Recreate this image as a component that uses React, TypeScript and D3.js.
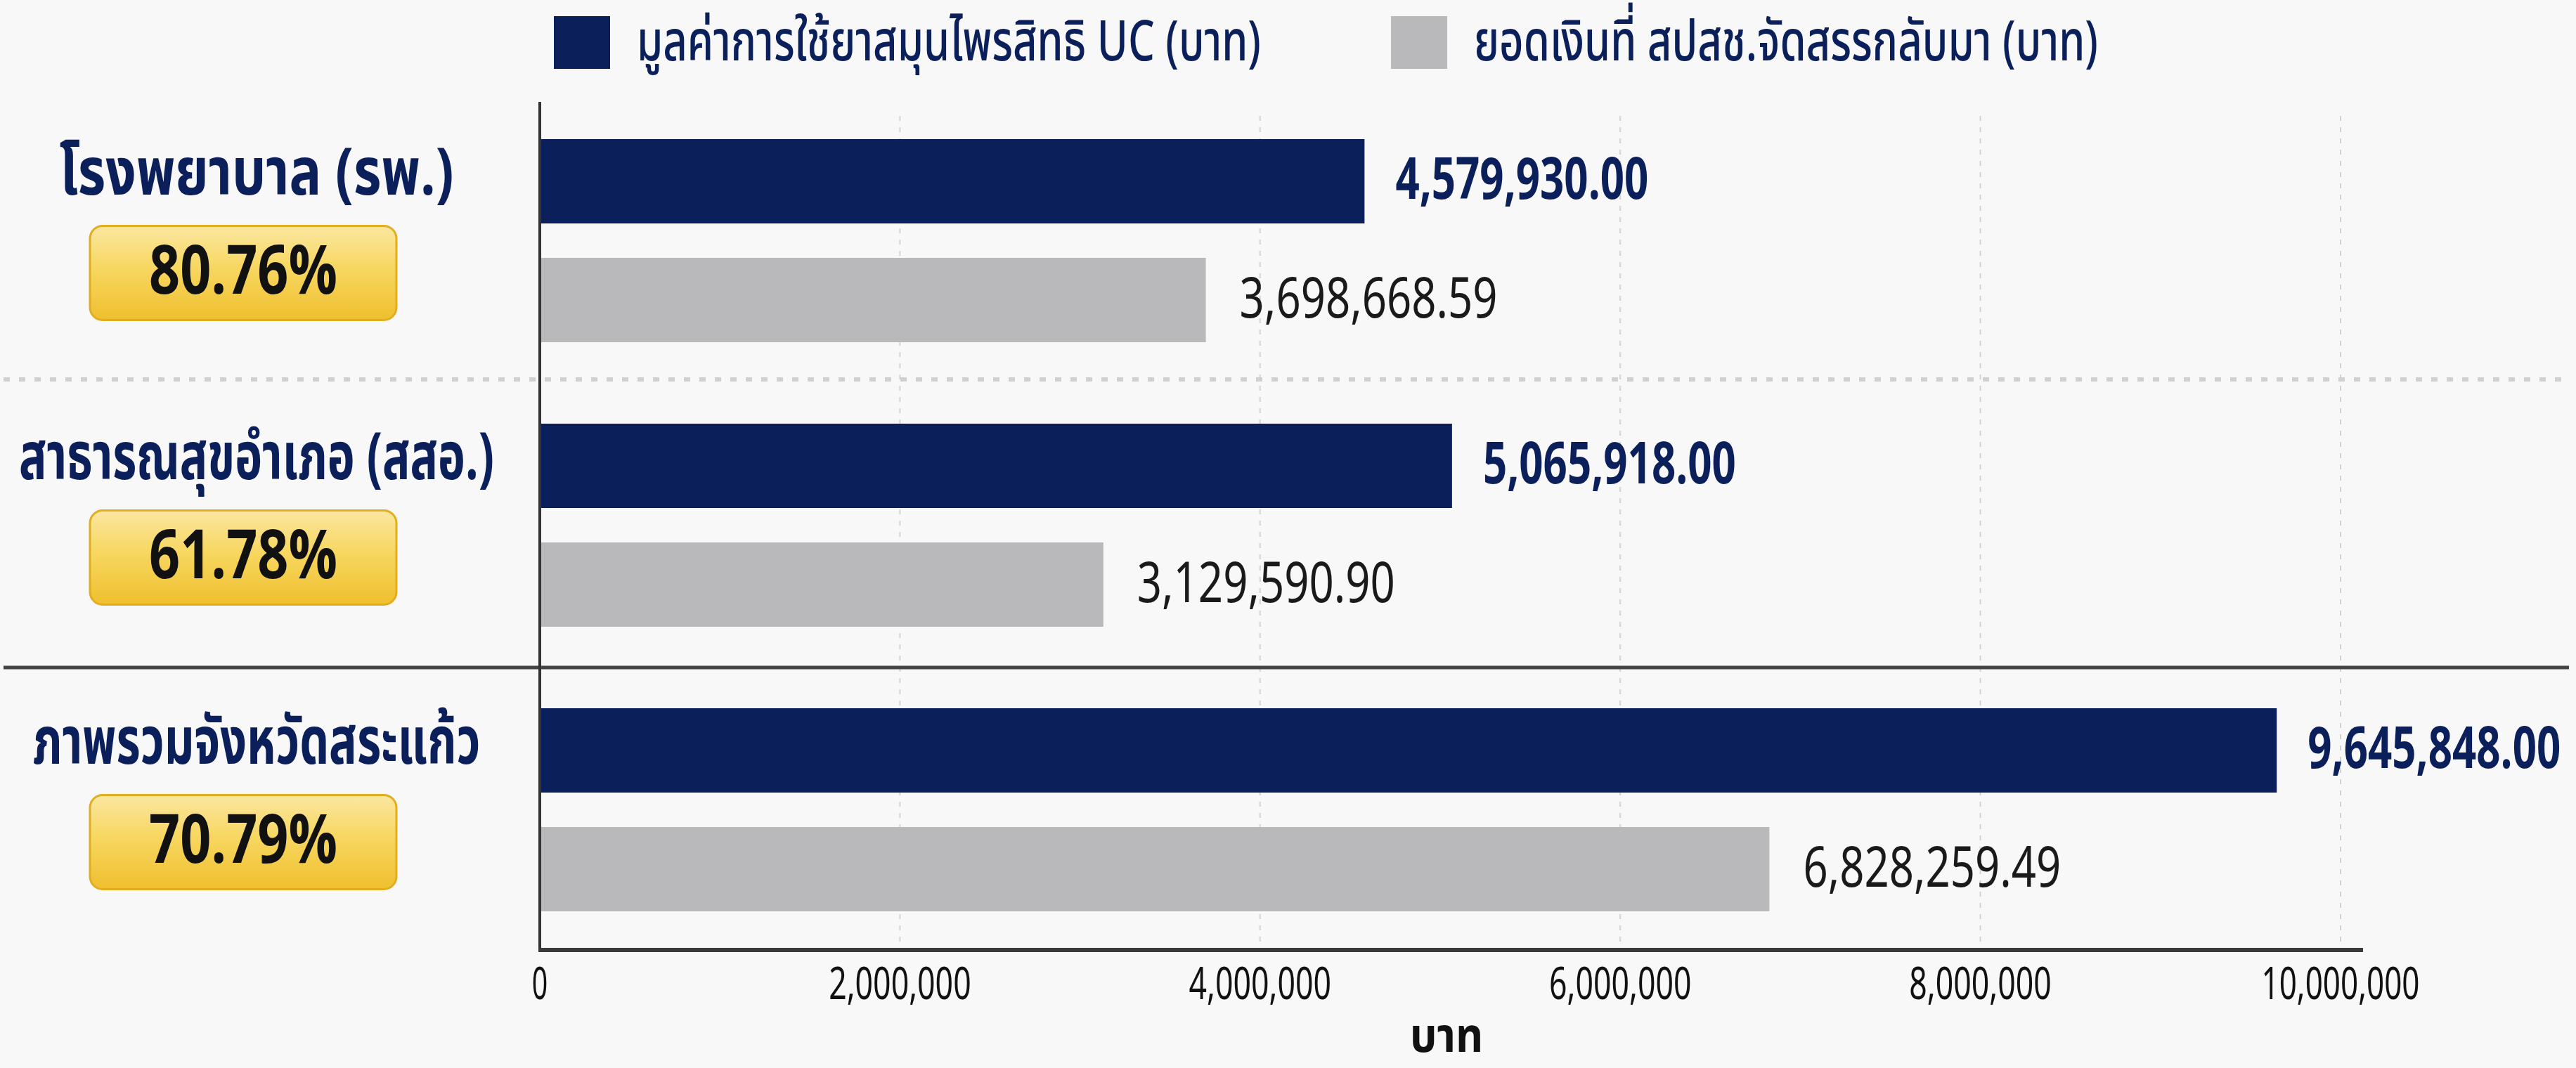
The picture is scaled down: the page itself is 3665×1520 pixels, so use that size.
import { useEffect, useRef } from "react";
import * as d3 from "d3";

// chart data
const categories = ["โรงพยาบาล (รพ.)", "สาธารณสุขอำเภอ (สสอ.)", "ภาพรวมจังหวัดสระแก้ว"];
const percentLabels = ["80.76%", "61.78%", "70.79%"];
const seriesNames = ["มูลค่าการใช้ยาสมุนไพรสิทธิ UC (บาท)", "ยอดเงินที่ สปสช.จัดสรรกลับมา (บาท)"];
const ucValues = [4579930.0, 5065918.0, 9645848.0];
const returnedValues = [3698668.59, 3129590.9, 6828259.49];
const xTicks = [0, 2000000, 4000000, 6000000, 8000000, 10000000];
const axisTitle = "บาท";

const W = 3665, H = 1520;
const NAVY = "#0b1f5b";
const GREY = "#b9b9bb";
const FONT = "'Noto Sans Thai', Roboto, 'Noto Sans', 'DejaVu Sans', sans-serif";
// condensed look: squeeze category labels to the reference widths
const labelLengths = [561, 676, 637];

export default function App() {
  const ref = useRef<SVGSVGElement>(null);

  useEffect(() => {
    const svg = d3.select(ref.current);
    svg.selectAll("*").remove();

    svg.append("rect").attr("width", W).attr("height", H).attr("fill", "#f8f8f8");

    const defs = svg.append("defs");
    const grad = defs.append("linearGradient").attr("id", "gold").attr("x1", 0).attr("y1", 0).attr("x2", 0).attr("y2", 1);
    grad.append("stop").attr("offset", "0%").attr("stop-color", "#fbe7a0");
    grad.append("stop").attr("offset", "45%").attr("stop-color", "#f7d760");
    grad.append("stop").attr("offset", "100%").attr("stop-color", "#efbf2e");

    const x = d3.scaleLinear().domain([0, 10000000]).range([768, 3330]);
    const y = d3.scaleBand<string>().domain(categories).range([140, 1355]);
    const inner = d3.scaleBand<string>().domain(["uc", "ret"]).range([0, y.step()])
      .paddingInner(0.29).paddingOuter(0.343);
    const fmt = d3.format(",.2f");

    // grid lines
    svg.append("g").selectAll("line").data(xTicks.slice(1)).join("line")
      .attr("x1", (d) => x(d)).attr("x2", (d) => x(d))
      .attr("y1", 165).attr("y2", 1350)
      .attr("stroke", "#d2d2d2").attr("stroke-width", 2).attr("stroke-dasharray", "7 9");

    // group separators
    svg.append("line").attr("x1", 5).attr("x2", 3655)
      .attr("y1", y(categories[1])! - 5).attr("y2", y(categories[1])! - 5)
      .attr("stroke", "#d0d0d0").attr("stroke-width", 6).attr("stroke-dasharray", "9 13");
    svg.append("line").attr("x1", 5).attr("x2", 3655)
      .attr("y1", y(categories[2])!).attr("y2", y(categories[2])!)
      .attr("stroke", "#444").attr("stroke-width", 5);

    const groups = svg.append("g").selectAll("g").data(categories).join("g")
      .attr("transform", (d) => `translate(0,${y(d)})`);

    // bars
    groups.append("rect")
      .attr("x", x(0)).attr("y", inner("uc")!)
      .attr("width", (_, i) => x(ucValues[i]) - x(0)).attr("height", inner.bandwidth())
      .attr("fill", NAVY);
    groups.append("rect")
      .attr("x", x(0)).attr("y", inner("ret")!)
      .attr("width", (_, i) => x(returnedValues[i]) - x(0)).attr("height", inner.bandwidth())
      .attr("fill", GREY);

    // value labels
    groups.append("text")
      .attr("x", (_, i) => x(ucValues[i]) + 44).attr("y", inner("uc")! + inner.bandwidth() / 2)
      .attr("dominant-baseline", "central")
      .attr("font-family", FONT).attr("font-size", 82).attr("font-weight", 700).attr("fill", NAVY)
      .attr("textLength", 360).attr("lengthAdjust", "spacingAndGlyphs")
      .text((_, i) => fmt(ucValues[i]));
    groups.append("text")
      .attr("x", (_, i) => x(returnedValues[i]) + 48).attr("y", inner("ret")! + inner.bandwidth() / 2)
      .attr("dominant-baseline", "central")
      .attr("font-family", FONT).attr("font-size", 80).attr("fill", "#1a1a1a")
      .attr("textLength", 367).attr("lengthAdjust", "spacingAndGlyphs")
      .text((_, i) => fmt(returnedValues[i]));

    // category labels + percent badges
    const mid = y.step() / 2;
    groups.append("text")
      .attr("x", 365).attr("y", mid - 95)
      .attr("text-anchor", "middle").attr("dominant-baseline", "central")
      .attr("font-family", FONT).attr("font-size", 94).attr("font-weight", 700).attr("fill", NAVY)
      .attr("textLength", (_, i) => labelLengths[i]).attr("lengthAdjust", "spacingAndGlyphs")
      .text((d) => d);
    groups.append("rect")
      .attr("x", 128).attr("y", mid + 46 - 67).attr("width", 436).attr("height", 134)
      .attr("rx", 18).attr("fill", "url(#gold)").attr("stroke", "#e2ad1e").attr("stroke-width", 3);
    groups.append("text")
      .attr("x", 346).attr("y", mid + 46)
      .attr("text-anchor", "middle").attr("dominant-baseline", "central")
      .attr("font-family", FONT).attr("font-size", 96).attr("font-weight", 700).attr("fill", "#111")
      .attr("textLength", 268).attr("lengthAdjust", "spacingAndGlyphs")
      .text((_, i) => percentLabels[i]);

    // axes
    svg.append("line").attr("x1", x(0)).attr("x2", x(0)).attr("y1", 145).attr("y2", 1352)
      .attr("stroke", "#333").attr("stroke-width", 4);
    svg.append("line").attr("x1", x(0) - 2).attr("x2", x.range()[1] + 32).attr("y1", 1352).attr("y2", 1352)
      .attr("stroke", "#3a3a3a").attr("stroke-width", 6);

    svg.append("g").selectAll("text").data(xTicks).join("text")
      .attr("x", (d) => x(d)).attr("y", 1402)
      .attr("text-anchor", "middle").attr("dominant-baseline", "central")
      .attr("font-family", FONT).attr("font-size", 64).attr("fill", "#111")
      .attr("textLength", (d) => d3.format(",")(d).length * 22.5).attr("lengthAdjust", "spacingAndGlyphs")
      .text((d) => d3.format(",")(d));

    svg.append("text").attr("x", 2058).attr("y", 1476)
      .attr("text-anchor", "middle").attr("dominant-baseline", "central")
      .attr("font-family", FONT).attr("font-size", 68).attr("font-weight", 700).attr("fill", "#111")
      .attr("textLength", 104).attr("lengthAdjust", "spacingAndGlyphs")
      .text(axisTitle);

    // legend
    const legendX = [788, 1979];
    const legend = svg.append("g").selectAll("g").data(seriesNames).join("g")
      .attr("transform", (_, i) => `translate(${legendX[i]},23)`);
    legend.append("rect").attr("width", 80).attr("height", 75)
      .attr("fill", (_, i) => (i === 0 ? NAVY : GREY));
    legend.append("text").attr("x", 118).attr("y", 38)
      .attr("dominant-baseline", "central")
      .attr("font-family", FONT).attr("font-size", 80).attr("font-weight", 500).attr("fill", NAVY)
      .attr("textLength", 888).attr("lengthAdjust", "spacingAndGlyphs")
      .text((d) => d);
  }, []);

  return (
    <svg ref={ref} width={W} height={H}
      style={{ position: "absolute", left: 0, top: 0, display: "block" }} />
  );
}
